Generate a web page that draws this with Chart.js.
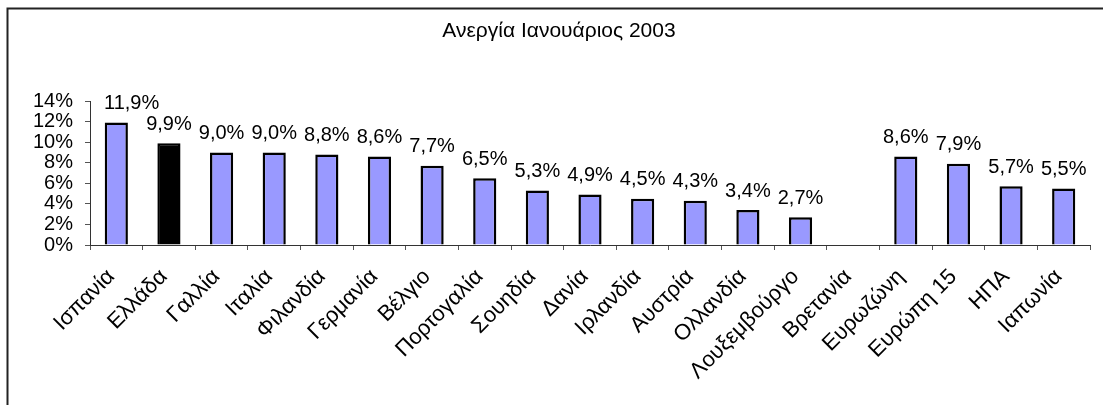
<!DOCTYPE html>
<html>
<head>
<meta charset="utf-8">
<script src="https://cdn.jsdelivr.net/npm/chart.js@4"></script>
<style>
  html, body { margin: 0; padding: 0; background: #fff; }
  #wrap { width: 1103px; height: 405px; position: relative; }
</style>
</head>
<body>
<div id="wrap"><canvas id="unemploymentChart"></canvas></div>
<script>
const chartTitle = 'Ανεργία Ιανουάριος 2003';
const countries = ['Ισπανία', 'Ελλάδα', 'Γαλλία', 'Ιταλία', 'Φιλανδία', 'Γερμανία', 'Βέλγιο', 'Πορτογαλία',
    'Σουηδία', 'Δανία', 'Ιρλανδία', 'Αυστρία', 'Ολλανδία', 'Λουξεμβούργο', 'Βρετανία',
    'Ευρωζώνη', 'Ευρώπη 15', 'ΗΠΑ', 'Ιαπωνία'];
const unemployment = [11.9, 9.9, 9.0, 9.0, 8.8, 8.6, 7.7, 6.5, 5.3, 4.9, 4.5, 4.3, 3.4, 2.7, null, 8.6, 7.9, 5.7, 5.5];
const yTicks = [0, 2, 4, 6, 8, 10, 12, 14];

const FONT = 'Arial, "Liberation Sans", sans-serif';
Chart.defaults.font.family = FONT;
Chart.defaults.color = '#000';

// frame lines (only top and left are visible in the original) + title
const framePlugin = {
    id: 'frame',
    beforeDraw(chart) {
        const ctx = chart.ctx;
        ctx.save();
        ctx.fillStyle = '#fff';
        ctx.fillRect(0, 0, chart.width, chart.height);
        ctx.strokeStyle = '#222';
        ctx.lineWidth = 2;
        ctx.beginPath();
        ctx.moveTo(7.5, chart.height);
        ctx.lineTo(7.5, 8.5);
        ctx.lineTo(chart.width, 8.5);
        ctx.stroke();
        ctx.font = '21px ' + FONT;
        ctx.fillStyle = '#000';
        ctx.textAlign = 'center';
        ctx.textBaseline = 'middle';
        ctx.fillText(chartTitle, 559, 31);
        ctx.restore();
    }
};

// value labels above the bars, decimal comma
const valueLabels = {
    id: 'valueLabels',
    afterDatasetsDraw(chart) {
        const ctx = chart.ctx;
        const meta = chart.getDatasetMeta(0);
        ctx.save();
        ctx.font = '20px ' + FONT;
        ctx.fillStyle = '#000';
        ctx.textAlign = 'center';
        ctx.textBaseline = 'bottom';
        meta.data.forEach(function(bar, i) {
            const v = unemployment[i];
            if (v === null) return;
            const txt = v.toFixed(1).replace('.', ',') + '%';
            const w = ctx.measureText(txt).width;
            // keep clear of the y axis labels, like Excel does
            const x = Math.max(bar.x, chart.chartArea.left + 14 + w / 2);
            ctx.fillText(txt, x, bar.y - 9);
        });
        ctx.restore();
    }
};

const ctx = document.getElementById('unemploymentChart').getContext('2d');
new Chart(ctx, {
    type: 'bar',
    data: {
        labels: countries,
        datasets: [{
            data: unemployment,
            backgroundColor: countries.map(c => c === 'Ελλάδα' ? '#000000' : '#9999ff'),
            borderColor: '#000',
            borderWidth: 2.5,
            barPercentage: 0.44,
            categoryPercentage: 1
        }]
    },
    options: {
        responsive: true,
        maintainAspectRatio: false,
        animation: false,
        layout: { padding: { left: 0, right: 13, top: 101, bottom: 0 } },
        plugins: {
            legend: { display: false },
            tooltip: { enabled: false },
            title: { display: false }
        },
        scales: {
            x: {
                grid: { drawOnChartArea: false, drawTicks: true, tickLength: 5, color: '#555', offset: true },
                border: { display: true, color: '#333', width: 1 },
                ticks: {
                    autoSkip: false,
                    maxRotation: 45,
                    minRotation: 45,
                    padding: 14,
                    labelOffset: -5,
                    font: { size: 22 }
                },
                afterFit(scale) { scale.height = 160; }
            },
            y: {
                min: 0,
                max: 14,
                afterBuildTicks(scale) { scale.ticks = yTicks.map(v => ({ value: v })); },
                grid: { drawOnChartArea: false, drawTicks: true, tickLength: 5, color: '#555' },
                border: { display: true, color: '#333', width: 1 },
                ticks: {
                    autoSkip: false,
                    padding: 12,
                    font: { size: 20 },
                    callback: function(value) { return value + '%'; }
                },
                afterFit(scale) { scale.width = 90; }
            }
        }
    },
    plugins: [framePlugin, valueLabels]
});
</script>
</body>
</html>
